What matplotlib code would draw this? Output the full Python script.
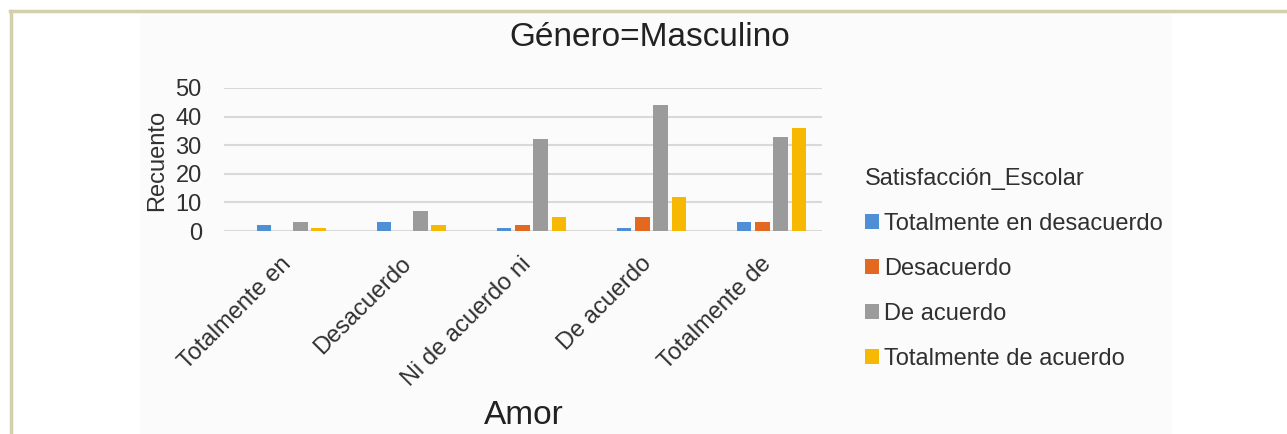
import numpy as np
import matplotlib
matplotlib.use('Agg')
import matplotlib.pyplot as plt
from matplotlib.patches import Rectangle, Patch
from matplotlib.lines import Line2D
from matplotlib.transforms import ScaledTranslation

plt.rcParams['font.family'] = ['Liberation Sans', 'DejaVu Sans']

# datos
categorias = ['Totalmente en', 'Desacuerdo', 'Ni de acuerdo ni', 'De acuerdo', 'Totalmente de']
series = ['Totalmente en desacuerdo', 'Desacuerdo', 'De acuerdo', 'Totalmente de acuerdo']
tot_desacuerdo = [2, 3, 1, 1, 3]
desacuerdo = [0, 0, 2, 5, 3]
de_acuerdo = [3, 7, 32, 44, 33]
tot_acuerdo = [1, 2, 5, 12, 36]
y_ticks = [0, 10, 20, 30, 40, 50]

COLORES = ['#4f8fd6', '#e2691f', '#9b9b9b', '#f6b800']
TXT = '#303030'
W, H = 1287, 434

fig = plt.figure(figsize=(W / 100, H / 100), dpi=100)
fig.patch.set_facecolor('white')

# panel gris claro y marco
fig.patches.append(Rectangle((140 / W, 0), (1172 - 140) / W, 1 - 12 / H,
                             transform=fig.transFigure, facecolor='#fbfbfb',
                             edgecolor='none', zorder=-10))
fig.lines.append(Line2D([10 / W, 1], [1 - 10.5 / H, 1 - 10.5 / H], transform=fig.transFigure,
                        color='#d3cfae', linewidth=2.5, zorder=-5))
fig.lines.append(Line2D([10.5 / W, 10.5 / W], [0, 1 - 10.5 / H], transform=fig.transFigure,
                        color='#d3cfae', linewidth=2.5, zorder=-5))

ax = fig.add_axes([224 / W, (H - 231) / H, (822 - 224) / W, (231 - 88) / H])
ax.set_facecolor('none')
ax.set_zorder(2)

x = np.arange(len(categorias))
ancho = 0.121
paso = 0.152
valores = [tot_desacuerdo, desacuerdo, de_acuerdo, tot_acuerdo]
for i, (vals, nombre) in enumerate(zip(valores, series)):
    ax.bar(x + (i - 1.5) * paso, vals, width=ancho, color=COLORES[i], label=nombre, zorder=3)

ax.set_xlim(-0.56, 4.42)
ax.set_ylim(0, 50)
ax.set_yticks(y_ticks)
ax.yaxis.grid(True, color='#d9d9d9', linewidth=1.5, zorder=0)
ax.set_axisbelow(True)
for s in ax.spines.values():
    s.set_visible(False)
ax.tick_params(axis='both', length=0, labelsize=17, colors=TXT)
ax.tick_params(axis='y', pad=16)
ax.set_xticks(x)
ax.set_xticklabels(categorias, rotation=45, ha='right', rotation_mode='anchor')
ax.tick_params(axis='x', pad=10)
desplaza = ScaledTranslation(-0.11, -0.08, fig.dpi_scale_trans)
for lab in ax.get_xticklabels():
    lab.set_transform(lab.get_transform() + desplaza)

fig.text(650 / W, 1 - 37 / H, 'Género=Masculino', ha='center', va='center', fontsize=24, color='#222222')
fig.text(157 / W, 1 - 160 / H, 'Recuento', ha='center', va='center', rotation=90, fontsize=17, color=TXT)
fig.text(524 / W, 1 - 416 / H, 'Amor', ha='center', va='center', fontsize=24, color='#222222')

handles = [Patch(facecolor=c, edgecolor='none') for c in COLORES]
leg = fig.legend(handles, series, loc='upper left', bbox_to_anchor=(844 / W, 1 - 147 / H),
                 frameon=False, fontsize=17, title='Satisfacción_Escolar', title_fontsize=17,
                 handlelength=0.6, handleheight=0.6, handletextpad=0.2, labelspacing=0.97,
                 alignment='left')
for t in leg.get_texts():
    t.set_color(TXT)
leg.get_title().set_color(TXT)

fig.savefig('out.png', dpi=100)
